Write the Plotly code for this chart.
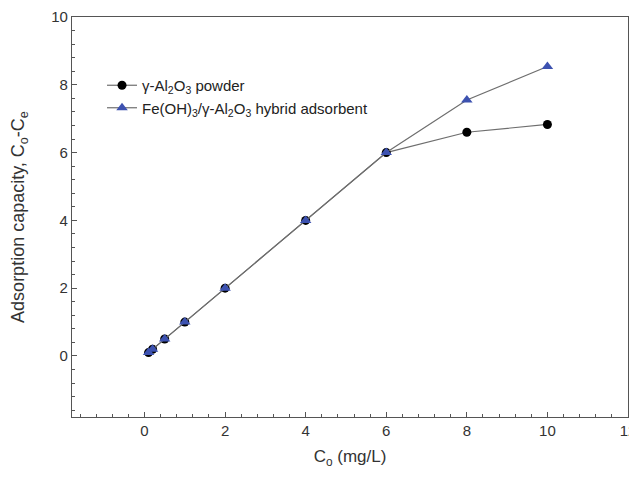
import plotly.graph_objects as go

co = [0.1, 0.2, 0.5, 1, 2, 4, 6, 8, 10]
al2o3 = [0.1, 0.2, 0.5, 1.0, 2.0, 4.0, 6.0, 6.6, 6.83]
hybrid = [0.1, 0.2, 0.5, 1.0, 2.0, 4.0, 6.0, 7.55, 8.54]
names = ["γ-Al<sub>2</sub>O<sub>3</sub> powder",
         "Fe(OH)<sub>3</sub>/γ-Al<sub>2</sub>O<sub>3</sub> hybrid adsorbent"]

fig = go.Figure()
fig.add_trace(go.Scatter(x=co, y=al2o3, mode="lines+markers", name=names[0],
                         line=dict(color="#6e6e6e", width=1.2),
                         marker=dict(symbol="circle", size=9, color="black")))
fig.add_trace(go.Scatter(x=co, y=hybrid, mode="lines+markers", name=names[1],
                         line=dict(color="#6e6e6e", width=1.2),
                         marker=dict(symbol="triangle-up", size=10, color="#3d52b0")))

axis_common = dict(showline=True, linecolor="#555", linewidth=1.2, mirror=True,
                   ticks="inside", ticklen=5, tickcolor="#555", showgrid=False,
                   zeroline=False, automargin=False, ticklabeloverflow="allow",
                   tickfont=dict(size=15, color="#333", family="Liberation Sans, Arial"),
                   minor=dict(ticks="inside", dtick=0.4, ticklen=3, tickcolor="#555"))

# the page body has an 8px margin, so the figure is sized to fit the window
fig.update_layout(
    width=629, height=461,
    margin=dict(l=64, r=9, t=9, b=52),
    plot_bgcolor="white", paper_bgcolor="white",
    font=dict(family="Liberation Sans, Arial", color="#333", size=14),
    xaxis=dict(range=[-1.8, 12], tick0=0, dtick=2,
               title=dict(text="C<sub>o</sub> (mg/L)", font=dict(size=17), standoff=22),
               **axis_common),
    yaxis=dict(range=[-1.8, 10], tick0=0, dtick=2,
               title=dict(text="Adsorption capacity, C<sub>o</sub>-C<sub>e</sub>",
                          font=dict(size=18), standoff=22),
               **axis_common),
    legend=dict(x=0.054, y=0.87, xanchor="left", yanchor="top",
                bgcolor="rgba(0,0,0,0)", font=dict(size=15, color="#222"),
                tracegroupgap=2),
    showlegend=True,
)

fig.write_html("out.html")
